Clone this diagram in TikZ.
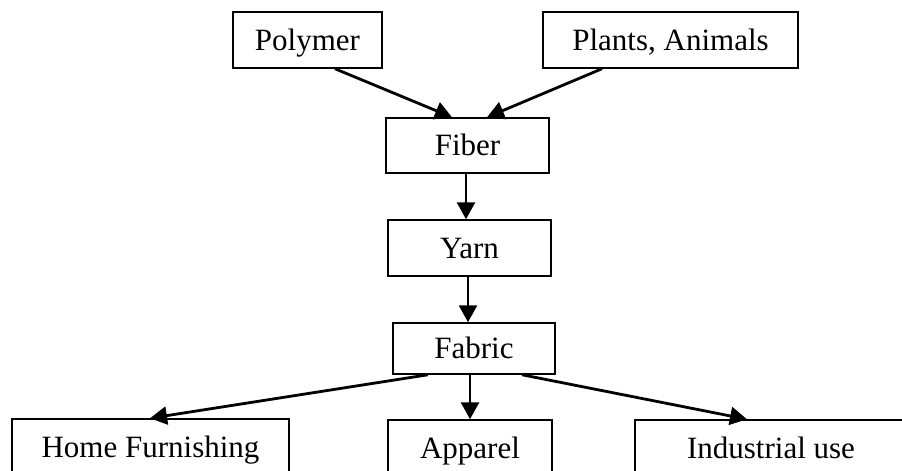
\documentclass[tikz,border=0pt]{standalone}
\usepackage{fontspec}
\setmainfont{Liberation Serif}
\usetikzlibrary{arrows.meta}
\begin{document}
\begin{tikzpicture}[x=1pt,y=-1pt,
  box/.style={draw, line width=1.5pt, inner sep=0pt, minimum height=56pt,
    text height=20.5pt, text depth=0pt,
    font=\fontsize{31}{36}\selectfont},
  arr/.style={line width=2.8pt, -{Triangle[length=17pt,width=18pt]}}]
\useasboundingbox (0,0) rectangle (902,471);
\clip (0,0) rectangle (902,471);
\node[box, minimum width=149pt] (poly) at (307.5,40) {Polymer};
\node[box, minimum width=255pt] (plants) at (670.5,40) {Plants, Animals};
\node[box, minimum width=163pt, minimum height=55pt] (fiber) at (467.5,145.5) {Fiber};
\node[box, minimum width=163pt] (yarn) at (469.5,248) {Yarn};
\node[box, minimum width=162pt, minimum height=51pt] (fabric) at (474,348.5) {Fabric};
\node[box, minimum width=277pt] (home) at (150.5,447) {Home Furnishing};
\node[box, minimum width=164pt] (apparel) at (470,448) {Apparel};
\node[box, minimum width=272pt] (ind) at (771,448) {Industrial use};
\draw[arr] ([xshift=27.5pt]poly.south) -- ([xshift=-15.5pt]fiber.north);
\draw[arr] ([xshift=-68.5pt]plants.south) -- ([xshift=19.5pt]fiber.north);
\draw[arr] ([xshift=-1.5pt]fiber.south) -- ([xshift=-1.5pt]fiber.south |- yarn.north);
\draw[arr] ([xshift=-1.5pt]yarn.south) -- ([xshift=-1.5pt]yarn.south |- fabric.north);
\draw[arr] ([xshift=-46pt]fabric.south) -- ([xshift=-0.5pt]home.north);
\draw[arr] (apparel.north |- fabric.south) -- (apparel.north);
\draw[arr] ([xshift=48pt]fabric.south) -- ([xshift=-24pt]ind.north);
\end{tikzpicture}
\end{document}
